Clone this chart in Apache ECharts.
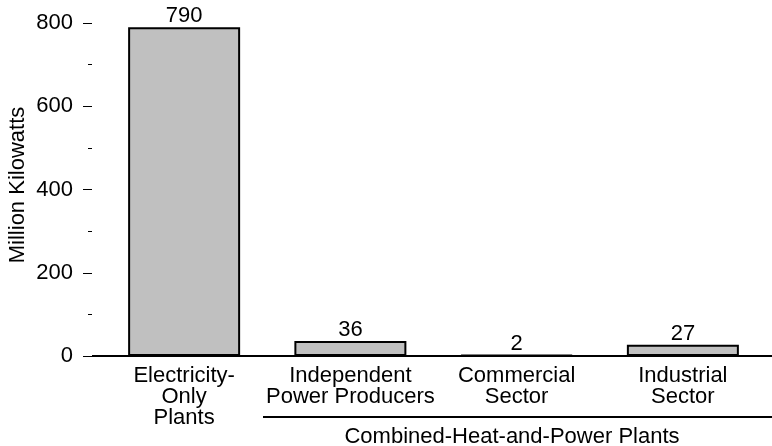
<!DOCTYPE html>
<html><head><meta charset="utf-8">
<script src="https://cdn.jsdelivr.net/npm/echarts@6/dist/echarts.min.js"></script>
<style>html,body{margin:0;padding:0;background:#fff}#c{width:772px;height:446px}</style>
</head><body><div id="c"></div>
<script>
const categories = ['Electricity-\nOnly\nPlants', 'Independent\nPower Producers', 'Commercial\nSector', 'Industrial\nSector'];
const values = [790, 36, 2, 27];
const yTicks = [0, 200, 400, 600, 800];
const yTitle = 'Million Kilowatts';
const groupLabel = 'Combined-Heat-and-Power Plants';

const FONT = 'Liberation Sans, Arial, sans-serif';
const FS = 22;
const chart = echarts.init(document.getElementById('c'), null, {renderer: 'canvas'});
chart.setOption({
  animation: false,
  grid: {left: 101, right: 6, top: 23, bottom: 90},
  xAxis: {
    type: 'category', data: categories,
    axisLine: {show: false}, axisTick: {show: false},
    axisLabel: {interval: 0, margin: 9, color: '#000', fontFamily: FONT, fontSize: FS, lineHeight: 21}
  },
  yAxis: {
    type: 'value', min: yTicks[0], max: yTicks[yTicks.length - 1], interval: 200, offset: 9,
    axisLine: {show: false},
    axisTick: {show: true, length: 9, lineStyle: {color: '#000', width: 1}},
    minorTick: {show: true, splitNumber: 2, length: 4, lineStyle: {color: '#000', width: 1}},
    splitLine: {show: false},
    axisLabel: {margin: 19, color: '#000', fontFamily: FONT, fontSize: FS}
  },
  series: [{
    type: 'bar', data: values, barWidth: 112,
    itemStyle: {color: '#c0c0c0', borderColor: '#000', borderWidth: 2},
    label: {show: true, position: 'top', distance: 0, color: '#000', fontFamily: FONT, fontSize: FS}
  }]
});
const y0 = chart.convertToPixel({yAxisIndex: 0}, 0);
chart.setOption({
  graphic: [
    {type: 'line', shape: {x1: 92, y1: y0, x2: 772, y2: y0}, style: {stroke: '#000', lineWidth: 2}, z: 10},
    {type: 'line', shape: {x1: 263, y1: 417, x2: 772, y2: 417}, style: {stroke: '#000', lineWidth: 2}},
    {type: 'text', x: 512, y: 437, style: {text: groupLabel, fill: '#000', font: FS + 'px ' + FONT, align: 'center', verticalAlign: 'middle'}},
    {type: 'text', x: 18, y: 185, rotation: Math.PI / 2, style: {text: yTitle, fill: '#000', font: FS + 'px ' + FONT, align: 'center', verticalAlign: 'middle'}}
  ]
});
</script></body></html>
